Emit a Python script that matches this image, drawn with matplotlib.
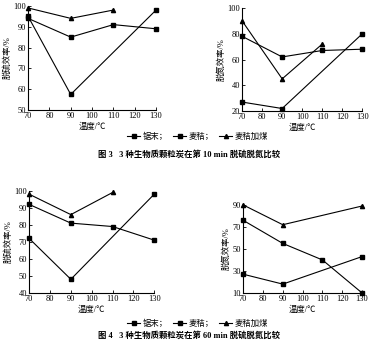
import matplotlib
matplotlib.use("Agg")
import matplotlib.pyplot as plt
from matplotlib.lines import Line2D

plt.rcParams['font.family'] = ['Liberation Serif', 'Noto Sans CJK SC', 'DejaVu Sans']

# temperatures (degC)
temp_all = [70, 90, 110, 130]
temp_v = [70, 90, 130]
temp_mix = [70, 90, 110]

# fig 3, 10 min: desulfurization
s10_sawdust = [95, 57.5, 98]
s10_straw = [94, 85, 91, 89]
s10_mix = [99, 94, 98]
# fig 3, 10 min: denitrification
n10_sawdust = [27, 22, 80]
n10_straw = [78, 62, 67, 68]
n10_mix = [90, 45, 72]
# fig 4, 60 min: desulfurization
s60_sawdust = [72, 48, 98]
s60_straw = [92, 81, 79, 71]
s60_mix = [98, 86, 99]
# fig 4, 60 min: denitrification
n60_sawdust = [27, 18, 43]
n60_straw = [76, 55, 40, 10]
temp_mix60 = [70, 90, 130]
n60_mix = [90, 72, 89]

legend_labels = ['锯末；', '麦秸；', '麦秸加煤']
xticks = [70, 80, 90, 100, 110, 120, 130]

fig = plt.figure(figsize=(3.69, 3.45), dpi=100)


def panel(rect, series, ylim, yticks, ylabel):
    ax = fig.add_axes(rect)
    for x, y, m in series:
        ax.plot(x, y, color='black', lw=0.8, marker=m, ms=3, clip_on=False)
    ax.set_xlim(70, 130)
    ax.set_ylim(*ylim)
    ax.set_xticks(xticks)
    ax.set_yticks(yticks)
    ax.spines['top'].set_visible(False)
    ax.spines['right'].set_visible(False)
    ax.tick_params(direction='in', length=2.5, width=0.6, labelsize=6, pad=1.5)
    for s in ax.spines.values():
        s.set_linewidth(0.8)
    ax.set_xlabel('温度/℃', fontsize=6, labelpad=2)
    ax.set_ylabel(ylabel, fontsize=6, labelpad=1)
    return ax


panel([0.076, 0.681, 0.347, 0.302],
      [(temp_v, s10_sawdust, 's'), (temp_all, s10_straw, 's'), (temp_mix, s10_mix, '^')],
      (50, 100), [50, 60, 70, 80, 90, 100], '脱硫效率/%')
panel([0.656, 0.678, 0.326, 0.299],
      [(temp_v, n10_sawdust, 's'), (temp_all, n10_straw, 's'), (temp_mix, n10_mix, '^')],
      (20, 100), [20, 40, 60, 80, 100], '脱氮效率/%')
panel([0.079, 0.151, 0.339, 0.296],
      [(temp_v, s60_sawdust, 's'), (temp_all, s60_straw, 's'), (temp_mix, s60_mix, '^')],
      (40, 100), [40, 50, 60, 70, 80, 90, 100], '脱硫效率/%')
panel([0.659, 0.151, 0.322, 0.255],
      [(temp_v, n60_sawdust, 's'), (temp_all, n60_straw, 's'), (temp_mix60, n60_mix, '^')],
      (10, 90), [10, 30, 50, 70, 90], '脱氮效率/%')

handles = [Line2D([], [], color='black', lw=0.8, marker=m, ms=3) for m in ['s', 's', '^']]
for y in [0.603, 0.061]:
    fig.legend(handles, legend_labels, loc='center', bbox_to_anchor=(0.536, y), ncol=3,
               frameon=False, fontsize=6, handlelength=1.6, handletextpad=0.3,
               columnspacing=0.6, borderpad=0)

fig.text(0.512, 0.551, '图 3   3 种生物质颗粒炭在第 10 min 脱硫脱氮比较',
         ha='center', va='center', fontsize=6, fontweight='bold')
fig.text(0.512, 0.029, '图 4   3 种生物质颗粒炭在第 60 min 脱硫脱氮比较',
         ha='center', va='center', fontsize=6, fontweight='bold')

fig.savefig('out.png', dpi=100)
